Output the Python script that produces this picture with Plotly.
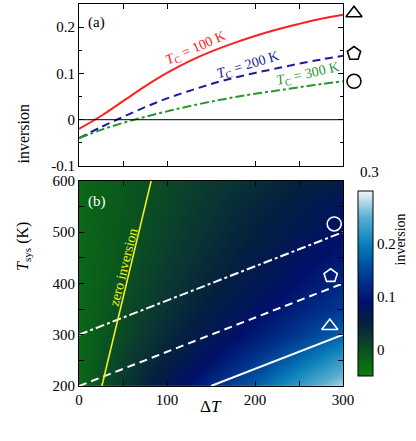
import plotly.graph_objects as go

# ---- panel (a): inversion vs dT for three T_C ----
dT = [0, 25, 50, 75, 100, 125, 150, 175, 200, 225, 250, 275, 300]
inv_tc100 = [-0.020, 0.008, 0.040, 0.072, 0.101, 0.126, 0.147, 0.165, 0.181, 0.195, 0.207, 0.218, 0.227]
inv_tc200 = [-0.040, -0.016, 0.006, 0.027, 0.046, 0.062, 0.077, 0.090, 0.101, 0.111, 0.121, 0.130, 0.138]
inv_tc300 = [-0.040, -0.022, -0.007, 0.006, 0.018, 0.029, 0.039, 0.048, 0.056, 0.063, 0.070, 0.077, 0.083]

# ---- panel (b): inversion map over (dT, Tsys) ----
tsys = [200, 250, 300, 350, 400, 450, 500, 550, 600]
z_map = [
    [-0.025, -0.001, 0.023, 0.047, 0.070, 0.094, 0.120, 0.145, 0.172, 0.200, 0.228, 0.254, 0.276],
    [-0.025, -0.006, 0.013, 0.032, 0.051, 0.070, 0.090, 0.110, 0.134, 0.158, 0.182, 0.205, 0.228],
    [-0.025, -0.009, 0.006, 0.022, 0.038, 0.054, 0.070, 0.085, 0.101, 0.118, 0.138, 0.158, 0.176],
    [-0.026, -0.012, 0.002, 0.015, 0.029, 0.042, 0.056, 0.069, 0.083, 0.097, 0.110, 0.124, 0.137],
    [-0.026, -0.014, -0.002, 0.010, 0.022, 0.034, 0.045, 0.057, 0.069, 0.081, 0.093, 0.105, 0.117],
    [-0.026, -0.015, -0.005, 0.006, 0.016, 0.027, 0.038, 0.048, 0.059, 0.069, 0.080, 0.090, 0.101],
    [-0.026, -0.016, -0.007, 0.003, 0.012, 0.022, 0.031, 0.041, 0.050, 0.060, 0.069, 0.079, 0.088],
    [-0.026, -0.017, -0.009, 0.000, 0.009, 0.017, 0.026, 0.035, 0.043, 0.052, 0.060, 0.069, 0.076],
    [-0.026, -0.018, -0.010, -0.002, 0.006, 0.014, 0.020, 0.027, 0.034, 0.041, 0.048, 0.054, 0.060],
]

# lines on the map: Tsys = T_C + 2/3 dT, and the zero-inversion line
line_tc100_x, line_tc100_y = [150, 300], [200, 300]
line_tc200_x, line_tc200_y = [0, 300], [200, 400]
line_tc300_x, line_tc300_y = [0, 300], [300, 500]
zero_x, zero_y = [26, 82], [200, 600]

# symbols
sym_a_x = [312.5, 312.5, 312.5]
sym_a_y = [0.230, 0.143, 0.083]
sym_b_x = [285, 286, 290]
sym_b_y = [317, 415, 516]
sym_kind = ["triangle-up-open", "pentagon-open", "circle-open"]

FONT = "Liberation Serif, Times New Roman, serif"
pal = [
    [0.0, "#0a800a"], [0.143, "#0a4f22"], [0.2, "#0a3a30"], [0.286, "#05203f"],
    [0.4, "#00106a"], [0.5, "#002e88"], [0.6, "#0050a0"], [0.714, "#0a80bb"],
    [0.857, "#5aaed0"], [1.0, "#f2f8fa"],
]

W, H = 416, 441
ML, MR, MT, MB = 79, 10, 4, 55
pw, ph = W - ML - MR, H - MT - MB
xend = 264 / pw  # right edge of both panels

fig = go.Figure()

# panel a
fig.add_trace(go.Scatter(x=dT, y=inv_tc100, mode="lines", line=dict(color="#ff2020", width=2),
                         xaxis="x", yaxis="y", line_shape="spline"))
fig.add_trace(go.Scatter(x=dT, y=inv_tc200, mode="lines", line=dict(color="#1c1c9c", width=2, dash="8px,5px"),
                         xaxis="x", yaxis="y", line_shape="spline"))
fig.add_trace(go.Scatter(x=dT, y=inv_tc300, mode="lines", line=dict(color="#2a962a", width=2, dash="dashdot"),
                         xaxis="x", yaxis="y", line_shape="spline"))
# symbols sit just right of panel (a), on a wider hidden axis
fig.add_trace(go.Scatter(x=sym_a_x, y=sym_a_y, mode="markers",
                         marker=dict(symbol=sym_kind, size=14, color="black", line=dict(width=1.6, color="black")),
                         xaxis="x3", yaxis="y"))

# panel b
fig.add_trace(go.Heatmap(x=dT, y=tsys, z=z_map, zmin=-0.05, zmax=0.3, colorscale=pal, zsmooth="best",
                         xaxis="x2", yaxis="y2",
                         colorbar=dict(x=(348 - ML) / pw, xanchor="left", y=0, yanchor="bottom", len=0.537,
                                       lenmode="fraction", thickness=15, outlinecolor="black", outlinewidth=1,
                                       tickvals=[0, 0.1, 0.2], ticktext=["0", "0.1", "0.2"],
                                       ticks="inside", ticklen=2, tickcolor="rgba(0,0,0,0)",
                                       tickfont=dict(family=FONT, size=15, color="black"))))
fig.add_trace(go.Scatter(x=line_tc100_x, y=line_tc100_y, mode="lines", line=dict(color="white", width=2),
                         xaxis="x2", yaxis="y2"))
fig.add_trace(go.Scatter(x=line_tc200_x, y=line_tc200_y, mode="lines", line=dict(color="white", width=2, dash="8px,5px"),
                         xaxis="x2", yaxis="y2"))
fig.add_trace(go.Scatter(x=line_tc300_x, y=line_tc300_y, mode="lines", line=dict(color="white", width=2, dash="dashdot"),
                         xaxis="x2", yaxis="y2"))
fig.add_trace(go.Scatter(x=zero_x, y=zero_y, mode="lines", line=dict(color="#f0f020", width=1.6),
                         xaxis="x2", yaxis="y2"))
fig.add_trace(go.Scatter(x=sym_b_x, y=sym_b_y, mode="markers",
                         marker=dict(symbol=sym_kind, size=14, color="white", line=dict(width=1.6, color="white")),
                         xaxis="x2", yaxis="y2"))

tickfont = dict(family=FONT, size=15, color="black")
common = dict(showline=True, linecolor="black", linewidth=1, mirror="ticks", ticks="inside",
              ticklen=5, tickcolor="black", showgrid=False, zeroline=False, tickfont=tickfont)

fig.update_layout(
    width=W, height=H, showlegend=False,
    margin=dict(l=ML, r=MR, t=MT, b=MB, autoexpand=False),
    plot_bgcolor="rgba(0,0,0,0)", paper_bgcolor="white",
    font=dict(family=FONT, color="black"),
    xaxis=dict(domain=[0, xend], anchor="y", range=[0, 300], tickvals=[50, 100, 200, 250],
               showticklabels=False, **common),
    xaxis3=dict(domain=[0, 1], anchor="y", range=[0, 300 / xend], visible=False),
    yaxis=dict(domain=[0.576, 1], anchor="x", range=[-0.1, 0.25], tickvals=[-0.1, 0, 0.1, 0.2],
               ticktext=["-0.1", "0", "0.1", "0.2"],
               minor=dict(dtick=0.05, ticks="inside", ticklen=3, tickcolor="black"), **common),
    xaxis2=dict(domain=[0, xend], anchor="y2", range=[0, 300], tickvals=[0, 100, 200, 300],
                minor=dict(tickvals=[50, 250], ticks="inside", ticklen=5, tickcolor="black"), **common),
    yaxis2=dict(domain=[0, 0.537], anchor="x2", range=[200, 600], tickvals=[200, 300, 400, 500, 600],
                minor=dict(dtick=50, ticks="inside", ticklen=5, tickcolor="black"), **common),
    # thin zero line across panel (a) only
    shapes=[dict(type="line", xref="x domain", yref="y", x0=0, x1=1, y0=0, y1=0,
                 line=dict(color="black", width=1))],
)

ann_font = dict(family=FONT, size=14)
annotations = [
    dict(x=20, y=0.209, xref="x", yref="y", text="(a)", showarrow=False, font=dict(family=FONT, size=15, color="black")),
    dict(x=20, y=559, xref="x2", yref="y2", text="(b)", showarrow=False, font=dict(family=FONT, size=15, color="white")),
    dict(x=133, y=0.153, xref="x", yref="y", text="<i>T</i><sub>C</sub> = 100 K", textangle=-24,
         showarrow=False, font=dict(color="#ff2020", **ann_font)),
    dict(x=192, y=0.118, xref="x", yref="y", text="<i>T</i><sub>C</sub> = 200 K", textangle=-17,
         showarrow=False, font=dict(color="#1c1c9c", **ann_font)),
    dict(x=260, y=0.097, xref="x", yref="y", text="<i>T</i><sub>C</sub> = 300 K", textangle=-13,
         showarrow=False, font=dict(color="#2a962a", **ann_font)),
    dict(x=50.6, y=431, xref="x2", yref="y2", text="zero inversion", textangle=-76,
         showarrow=False, font=dict(color="#f0f020", **ann_font)),
    # axis titles (pixel positions, converted below)
    dict(x=12, y=102, xref="paper", yref="paper", text="inversion", textangle=-90, showarrow=False,
         font=dict(family=FONT, size=16, color="black")),
    dict(x=12, y=273, xref="paper", yref="paper", text="<i>T</i><sub>sys</sub> (K)", textangle=-90, showarrow=False,
         font=dict(family=FONT, size=16, color="black")),
    dict(x=211, y=418, xref="paper", yref="paper", text="Δ<i>T</i>", showarrow=False,
         font=dict(family=FONT, size=17, color="black")),
    dict(x=409, y=268, xref="paper", yref="paper", text="inversion", textangle=-90, showarrow=False,
         font=dict(family=FONT, size=14, color="black")),
    dict(x=381, y=172, xref="paper", yref="paper", text="0.3", showarrow=False,
         font=dict(family=FONT, size=15, color="black")),
]

for a in annotations:
    if a["xref"] == "paper":
        a["x"] = (a["x"] - ML) / pw
        a["y"] = (H - MB - a["y"]) / ph
fig.update_layout(annotations=annotations)

# drop the browser's default page margin so the figure sits at (0, 0)
fig.write_html("out.html", config={"displayModeBar": False},
               post_script="document.body.style.margin='0px';")
